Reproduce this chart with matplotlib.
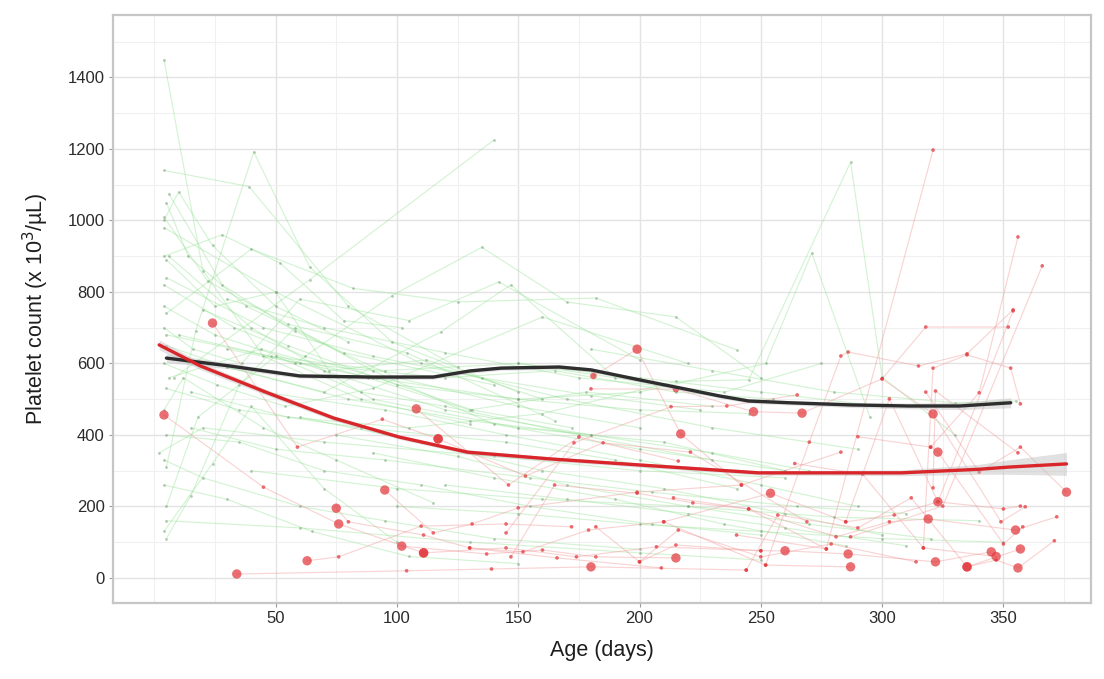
import matplotlib
matplotlib.use("Agg")
import matplotlib.pyplot as plt
from matplotlib.ticker import MultipleLocator, FixedLocator

plt.rcParams['font.family'] = ['Liberation Sans', 'DejaVu Sans']

# ---- individual trajectories: group with normal counts (green) ----
green_age = [
    [4, 20, 45, 85, 130],
    [4, 39, 80, 125],
    [5, 17, 41, 64, 98, 150],
    [6, 28, 58, 100, 150, 200],
    [5, 14, 38, 78, 140],
    [4, 22, 55, 104, 165],
    [8, 64, 140],
    [5, 25, 50, 72, 112, 160],
    [4, 33, 62, 92, 131, 172],
    [58, 98, 135, 170, 215, 250],
    [5, 40, 82, 125, 182, 240],
    [4, 16, 36, 60, 105, 142, 200],
    [5, 30, 70, 118, 147, 190],
    [4, 26, 54, 90, 160, 220],
    [6, 44, 88, 130, 178, 230],
    [4, 12, 45, 75, 115],
    [5, 35, 70, 110, 155, 205, 250],
    [4, 20, 60, 95, 140, 200],
    [4, 30, 65, 105, 150],
    [5, 18, 50, 85, 120, 175, 230],
    [4, 24, 40, 70, 100],
    [5, 15, 35, 58, 90, 140, 200, 260],
    [6, 40, 90, 150, 210, 260],
    [4, 50, 110, 170, 230, 290],
    [20, 55, 100, 150, 200, 245],
    [10, 60, 120, 165, 215, 255],
    [30, 80, 130, 180, 230, 270],
    [45, 95, 145, 200, 250, 290],
    [60, 110, 160, 210, 260, 300],
    [75, 125, 170, 220, 270, 320],
    [90, 140, 190, 235, 285],
    [15, 55, 105, 160, 215, 245, 287, 300, 330],
    [30, 90, 150, 200, 252, 271, 295],
    [100, 150, 200, 250, 300, 350],
    [120, 170, 220, 260, 310],
    [5, 60, 130, 200, 250],
    [40, 100, 160, 220, 280, 340],
    [150, 200, 250, 300, 350],
    [180, 230, 280, 330, 355],
    [5, 45, 90, 135, 180, 225],
    [4, 28, 52, 78, 102],
    [4, 10, 24, 50, 80],
    [5, 48, 95, 150, 210],
    [30, 70, 120, 175, 235, 275],
    [2, 20, 70, 140, 200, 260],
    [5, 35, 85, 145, 190, 240],
    [4, 25, 70, 120, 180],
    [15, 50, 95, 155, 205, 265, 310],
]
green_plt = [
    [1450, 860, 620, 500, 430],
    [1140, 1095, 760, 590],
    [310, 690, 1192, 870, 660, 520],
    [1075, 820, 690, 560, 480, 420],
    [1050, 900, 760, 630, 540],
    [1010, 830, 710, 630, 440],
    [560, 834, 1225],
    [890, 760, 800, 580, 610, 500],
    [820, 700, 620, 560, 470, 420],
    [600, 790, 925, 772, 730, 560],
    [740, 920, 810, 772, 783, 638],
    [700, 640, 600, 780, 720, 828, 610],
    [650, 590, 520, 688, 820, 560],
    [600, 540, 480, 530, 730, 600],
    [560, 640, 560, 470, 520, 480],
    [470, 560, 420, 330, 210],
    [400, 380, 300, 260, 200, 150, 120],
    [330, 280, 200, 160, 110, 80],
    [260, 220, 130, 60, 40],
    [200, 450, 620, 520, 480, 400, 330],
    [130, 320, 480, 250, 100],
    [110, 230, 540, 700, 580, 430, 360, 300],
    [900, 700, 500, 420, 380, 300],
    [980, 800, 600, 500, 420, 360],
    [750, 650, 540, 500, 470, 460],
    [680, 600, 560, 580, 520, 500],
    [590, 500, 440, 400, 350, 300],
    [520, 470, 400, 330, 260, 200],
    [450, 380, 300, 250, 180, 120],
    [400, 340, 260, 200, 150, 110],
    [350, 280, 220, 150, 90],
    [520, 450, 420, 460, 550, 554, 1163, 562, 400],
    [640, 560, 500, 520, 600, 909, 450],
    [200, 180, 150, 130, 110, 100],
    [260, 220, 180, 140, 90],
    [160, 140, 100, 70, 50],
    [300, 250, 220, 200, 170, 160],
    [600, 560, 520, 480, 490],
    [640, 580, 520, 490, 495],
    [840, 700, 620, 560, 510, 470],
    [900, 960, 880, 720, 700],
    [1000, 1080, 930, 760, 660],
    [680, 620, 580, 600, 540],
    [780, 700, 630, 560, 520, 600],
    [350, 420, 380, 340, 300, 280],
    [530, 470, 420, 380, 330, 250],
    [760, 680, 580, 470, 400],
    [420, 360, 330, 280, 240, 200, 180],
]

# ---- individual trajectories: group with low counts (red) ----
red_age = [
    [4, 45, 76, 111],
    [24, 59, 94, 117],
    [34, 104, 139, 180, 244],
    [63, 76, 110, 145, 172],
    [75, 80, 111, 130, 166, 209],
    [95, 115, 131, 150, 199, 242],
    [102, 137, 160, 182, 215],
    [108, 146, 175, 216],
    [111, 145, 174, 207, 250],
    [117, 153, 185, 221, 269],
    [130, 152, 179, 210, 252, 287],
    [145, 173, 213, 236, 265],
    [147, 165, 199, 222, 245, 277],
    [180, 215, 247, 267, 300, 318, 352],
    [181, 199, 217, 242, 283],
    [182, 200, 216, 250, 279, 314],
    [200, 215, 250, 260, 286, 322, 345],
    [210, 254, 285, 305, 323, 350, 357],
    [214, 245, 281, 303, 319, 355, 372],
    [244, 257, 290, 312, 335, 357],
    [252, 270, 283, 286, 315, 335, 354],
    [240, 277, 321],
    [290, 320, 340, 356],
    [287, 325, 366],
    [317, 321, 335, 353, 357],
    [320, 323, 350, 358],
    [321, 322, 356],
    [318, 340, 357, 376],
    [335, 347, 356, 371],
    [300, 321, 349, 359],
    [285, 303, 323, 354],
    [264, 292, 317, 347],
]
red_plt = [
    [456, 254, 151, 70],
    [713, 366, 444, 389],
    [11, 20, 25, 31, 22],
    [48, 59, 145, 151, 143],
    [195, 157, 120, 84, 56, 28],
    [246, 126, 151, 196, 240, 260],
    [89, 67, 78, 59, 56],
    [473, 260, 394, 327],
    [70, 84, 59, 87, 76],
    [389, 285, 378, 352, 157],
    [84, 73, 134, 157, 36, 31],
    [126, 378, 479, 481, 512],
    [59, 260, 237, 210, 193, 81],
    [529, 528, 465, 461, 557, 702, 702],
    [565, 640, 403, 260, 352],
    [143, 45, 134, 59, 95, 45],
    [45, 92, 76, 76, 67, 45, 73],
    [157, 237, 157, 176, 213, 193, 201],
    [224, 193, 115, 157, 165, 134, 171],
    [22, 176, 140, 224, 31, 81],
    [36, 380, 621, 632, 593, 627, 750],
    [120, 81, 1197],
    [395, 366, 518, 954],
    [115, 201, 873],
    [84, 587, 624, 587, 487],
    [366, 352, 95, 143],
    [252, 523, 350],
    [520, 296, 366, 240],
    [31, 50, 28, 104],
    [557, 459, 157, 199],
    [157, 501, 213, 747],
    [320, 290, 84, 60],
]
# point size class (1 small, 2 medium, 3 large)
red_size = [
    [3, 1, 3, 3],
    [3, 1, 1, 3],
    [3, 1, 1, 3, 1],
    [3, 1, 1, 1, 1],
    [3, 1, 1, 1, 1, 1],
    [3, 1, 1, 1, 1, 1],
    [3, 1, 1, 1, 3],
    [3, 1, 1, 1],
    [3, 1, 1, 1, 1],
    [3, 1, 1, 1, 1],
    [1, 1, 1, 1, 1, 3],
    [1, 1, 1, 1, 1],
    [1, 1, 1, 1, 1, 1],
    [1, 2, 3, 3, 1, 1, 1],
    [2, 3, 3, 1, 1],
    [1, 1, 1, 1, 1, 1],
    [1, 1, 1, 3, 3, 3, 3],
    [1, 3, 1, 1, 3, 1, 1],
    [1, 1, 1, 1, 3, 3, 1],
    [1, 1, 1, 1, 3, 3],
    [1, 1, 1, 1, 1, 1, 1],
    [1, 1, 1],
    [1, 1, 1, 1],
    [1, 1, 1],
    [1, 1, 1, 1, 1],
    [1, 3, 1, 1],
    [1, 1, 1],
    [1, 1, 1, 3],
    [3, 1, 3, 1],
    [1, 3, 1, 1],
    [1, 1, 1, 1],
    [1, 1, 1, 3],
]

# ---- smoothed group means with confidence half-widths ----
smooth_g_age = [5, 31, 60, 89, 115, 130, 143, 167, 180, 200, 217, 233, 245, 262, 287, 311, 332, 353]
smooth_g_plt = [615, 593, 565, 562, 562, 579, 587, 590, 582, 554, 531, 509, 495, 490, 484, 481, 481, 490]
smooth_g_ci = [12, 8, 6, 6, 6, 6, 6, 6, 6, 6, 6, 6, 6, 6, 7, 8, 10, 14]

smooth_r_age = [2, 19, 47, 74, 101, 129, 163, 200, 249, 308, 340, 352, 376]
smooth_r_plt = [652, 593, 517, 447, 394, 352, 333, 316, 294, 294, 304, 310, 319]
smooth_r_ci = [14, 10, 8, 7, 6, 6, 6, 6, 6, 8, 14, 20, 32]

size_area = {1: 7, 2: 22, 3: 46}

fig = plt.figure(figsize=(11.04, 6.79), dpi=100)
ax = fig.add_axes([0.1024, 0.112, 0.8856, 0.866])

line_green = '#8fe08f'
line_red = '#f2a0a0'

for xs, ys in zip(green_age, green_plt):
    ax.plot(xs, ys, color=line_green, lw=0.85, alpha=0.38, zorder=2)
for xs, ys in zip(red_age, red_plt):
    ax.plot(xs, ys, color=line_red, lw=0.85, alpha=0.45, zorder=2)

for xs, ys in zip(green_age, green_plt):
    ax.scatter(xs, ys, s=4, color='#6f9a6f', alpha=0.5, linewidths=0, zorder=3)
for xs, ys, ss in zip(red_age, red_plt, red_size):
    ax.scatter(xs, ys, s=[size_area[v] for v in ss], color='#e2383c',
               alpha=0.72, linewidths=0, zorder=3)

g_lo = [m - c for m, c in zip(smooth_g_plt, smooth_g_ci)]
g_hi = [m + c for m, c in zip(smooth_g_plt, smooth_g_ci)]
r_lo = [m - c for m, c in zip(smooth_r_plt, smooth_r_ci)]
r_hi = [m + c for m, c in zip(smooth_r_plt, smooth_r_ci)]
ax.fill_between(smooth_g_age, g_lo, g_hi, color='#bdbdbd', alpha=0.45, lw=0, zorder=4)
ax.fill_between(smooth_r_age, r_lo, r_hi, color='#bdbdbd', alpha=0.45, lw=0, zorder=4)
ax.plot(smooth_g_age, smooth_g_plt, color='#2e2e2e', lw=2.4, zorder=5,
        solid_capstyle='round')
ax.plot(smooth_r_age, smooth_r_plt, color='#d9262b', lw=2.4, zorder=5,
        solid_capstyle='round')

ax.set_xlim(-17, 386)
ax.set_ylim(-70, 1575)
ax.xaxis.set_major_locator(FixedLocator([50, 100, 150, 200, 250, 300, 350]))
ax.xaxis.set_minor_locator(FixedLocator([0, 25, 75, 125, 175, 225, 275, 325, 375]))
ax.yaxis.set_major_locator(MultipleLocator(200))
ax.yaxis.set_minor_locator(FixedLocator([100, 300, 500, 700, 900, 1100, 1300, 1500]))
ax.grid(which='major', color='#e3e3e3', lw=1.0, zorder=0)
ax.grid(which='minor', color='#f0f0f0', lw=0.8, zorder=0)
ax.set_axisbelow(True)

for sp in ax.spines.values():
    sp.set_color('#c6c6c6')
    sp.set_linewidth(1.6)

ax.tick_params(axis='both', which='major', length=3, width=0.8, color='#9a9a9a',
               labelsize=12, labelcolor='#2b2b2b', pad=3)
ax.tick_params(axis='both', which='minor', length=0)

ax.set_xlabel('Age (days)', fontsize=15.5, color='#1e1e1e', labelpad=10)
ax.set_ylabel('Platelet count (x 10$^{3}$/µL)', fontsize=15.5, color='#1e1e1e', labelpad=12)

fig.savefig('out.png', dpi=100, facecolor='white')
